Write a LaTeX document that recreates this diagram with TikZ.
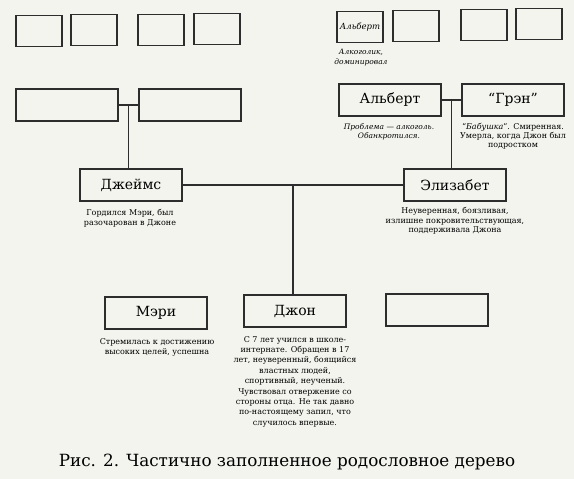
\documentclass[tikz,border=0pt]{standalone}
\usepackage{fontspec}
\setmainfont{DejaVu Serif}
\usepackage{tikz}
\usepackage{xcolor}
\usetikzlibrary{shapes,calc}

\definecolor{ink}{RGB}{45,45,45}
\definecolor{paper}{RGB}{244,244,239}

\tikzstyle{block} = [rectangle, draw=ink, line width=2pt, minimum width=102pt,
minimum height=32pt, inner sep=0pt, font=\fontsize{14}{16}\selectfont]
\tikzstyle{stub} = [rectangle, draw=ink, line width=1.9pt, minimum width=46pt,
minimum height=31pt, inner sep=0pt, font=\fontsize{8.5}{10}\selectfont\itshape]
\tikzstyle{note} = [align=center, anchor=north, inner sep=0pt,
font=\fontsize{8}{10}\selectfont]
\tikzstyle{line} = [draw=ink, line width=1.7pt]

\begin{document}
\begin{tikzpicture}[x=1pt, y=-1pt]
        \fill [paper] (0,0) rectangle (574,479);
        \useasboundingbox (0,0) rectangle (574,479);

        % great-grandparents
        \node [stub] (gg1) at (39,31) {};
        \node [stub] (gg2) at (94,30) {};
        \node [stub] (gg3) at (161,30) {};
        \node [stub] (gg4) at (217,29) {};
        \node [stub] (gg5) at (360,27) {Альберт};
        \node [stub] (gg6) at (416,26) {};
        \node [stub] (gg7) at (484,25) {};
        \node [stub] (gg8) at (539,24) {};

        % grandparents
        \node [block] (gpa) at (67,105) {};
        \node [block] (gma) at (190,105) {};
        \node [block] (albert) at (390,100) {Альберт};
        \node [block] (gren) at (513,100) {“Грэн”};

        % parents
        \node [block] (james) at (131,185) {Джеймс};
        \node [block] (eliz) at (455,185) {Элизабет};

        % children
        \node [block] (mary) at (156,313) {Мэри};
        \node [block] (john) at (295,311) {Джон};
        \node [block] (sib) at (437,310) {};

        % notes
        \node [note, font=\fontsize{7.5}{9.5}\selectfont\itshape] (gg5note) at (361,49) {Алкоголик,\\доминировал};
        \node [note, font=\fontsize{7.5}{9.5}\selectfont\itshape] (albnote) at (389,123) {Проблема — алкоголь.\\Обанкротился.};
        \node [note, font=\fontsize{8}{9}\selectfont] (grennote) at (513,123) {“\textit{Бабушка}”. Смиренная.\\Умерла, когда Джон был\\подростком};
        \node [note] (jamesnote) at (130,209) {Гордился Мэри, был\\разочарован в Джоне};
        \node [note, font=\fontsize{8}{9.6}\selectfont] (eliznote) at (455,207) {Неуверенная, боязливая,\\излишне покровительствующая,\\поддерживала Джона};
        \node [note] (marynote) at (157,338) {Стремилась к достижению\\высоких целей, успешна};
        \node [note, font=\fontsize{8}{10.4}\selectfont] (johnnote) at (295,336) {С 7 лет учился в школе-\\интернате. Обращен в 17\\лет, неуверенный, боящийся\\властных людей,\\спортивный, неученый.\\Чувствовал отвержение со\\стороны отца. Не так давно\\по-настоящему запил, что\\случилось впервые.};

        \coordinate (m1) at ($(gpa.east)!0.5!(gma.west)$);
        \coordinate (m2) at ($(albert.east)!0.5!(gren.west)$);
        \coordinate (m3) at ($(james.east)!0.5!(eliz.west)$);

        \path [line] (gpa) -- (gma);
        \path [line] (m1) -- (m1 |- james.north);
        \path [line] (albert) -- (gren);
        \path [line] (m2) -- (m2 |- eliz.north);
        \path [line] (james) -- (eliz);
        \path [line] (m3) -- (m3 |- john.north);

        \node [font=\fontsize{16.8}{20}\selectfont] (caption) at (287,462) {Рис. 2. Частично заполненное родословное дерево};
      \end{tikzpicture}
\end{document}
